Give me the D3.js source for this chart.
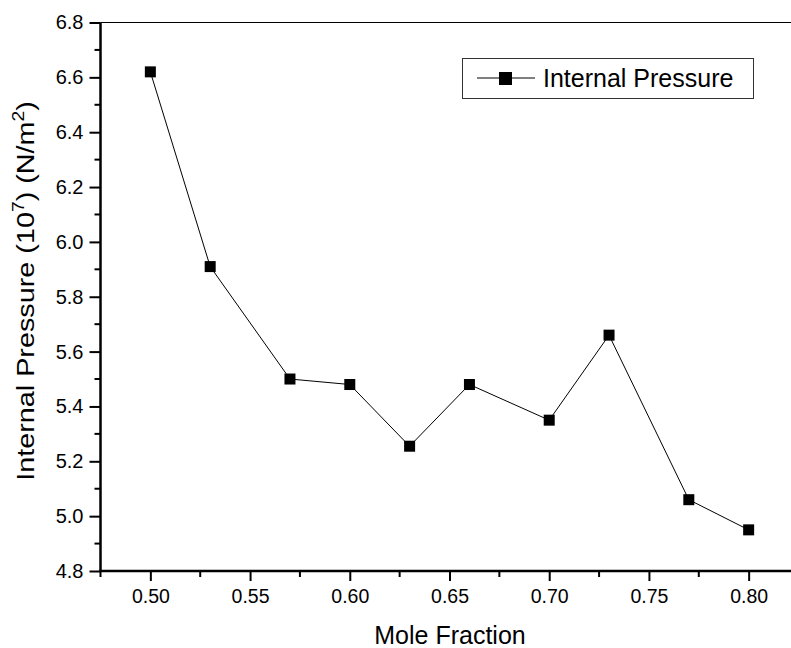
<!DOCTYPE html>
<meta charset="utf-8">
<style>
 body { margin: 0; background: white; }
 svg { display: block; font-family: 'Liberation Sans', Arial, sans-serif; }
</style>
<svg width="791" height="648"></svg>
<script src="https://d3js.org/d3.v7.min.js"></script>
<script>
 var moleFraction = [0.50, 0.53, 0.57, 0.60, 0.63, 0.66, 0.70, 0.73, 0.77, 0.80];
 var internalPressure = [6.62, 5.91, 5.50, 5.48, 5.255, 5.48, 5.35, 5.66, 5.06, 4.95];
 var yTicks = [4.8, 5.0, 5.2, 5.4, 5.6, 5.8, 6.0, 6.2, 6.4, 6.6, 6.8];
 var xTicks = [0.50, 0.55, 0.60, 0.65, 0.70, 0.75, 0.80];

 var svg = d3.select('svg');
 var pLeft = 100.5, pRight = 798.5, pTop = 22.5, pBottom = 571;

 var x = d3.scaleLinear().domain([0.475, 0.825]).range([pLeft, pRight]);
 var y = d3.scaleLinear().domain([4.8, 6.8]).range([pBottom, pTop]);

 // frame (top / right)
 svg.append('path')
     .attr('d', 'M' + pLeft + ',' + pTop + 'H' + pRight + 'V' + pBottom)
     .attr('fill', 'none').attr('stroke', '#000').attr('stroke-width', 1);

 // minor ticks
 var yMinor = [4.9, 5.1, 5.3, 5.5, 5.7, 5.9, 6.1, 6.3, 6.5, 6.7];
 svg.append('g').selectAll('line').data(yMinor).enter().append('line')
     .attr('x1', pLeft - 6).attr('x2', pLeft)
     .attr('y1', d => y(d)).attr('y2', d => y(d))
     .attr('stroke', '#000').attr('stroke-width', 2);
 var xMinor = [0.475, 0.525, 0.575, 0.625, 0.675, 0.725, 0.775];
 svg.append('g').selectAll('line').data(xMinor).enter().append('line')
     .attr('x1', d => x(d)).attr('x2', d => x(d))
     .attr('y1', pBottom).attr('y2', pBottom + 6)
     .attr('stroke', '#000').attr('stroke-width', 2);

 // axes
 var yAxis = svg.append('g').attr('transform', 'translate(' + pLeft + ',0)')
     .call(d3.axisLeft(y).tickValues(yTicks).tickFormat(d3.format('.1f')).tickSize(11).tickPadding(6));
 var xAxis = svg.append('g').attr('transform', 'translate(0,' + pBottom + ')')
     .call(d3.axisBottom(x).tickValues(xTicks).tickFormat(d3.format('.2f')).tickSize(10).tickPadding(8));
 yAxis.attr('font-size', 20);
 xAxis.attr('font-size', 19.5);
 [yAxis, xAxis].forEach(function(a) {
     a.attr('font-family', "'Liberation Sans', Arial, sans-serif");
     a.select('.domain').attr('stroke-width', 2.5);
     a.selectAll('.tick line').attr('stroke-width', 2);
     a.selectAll('text').attr('fill', '#000');
 });
 yAxis.select('.domain').attr('d', 'M0,' + (pBottom + 1) + 'V' + pTop);
 xAxis.select('.domain').attr('d', 'M' + (pLeft - 1) + ',0H' + pRight);

 // data line and markers
 var pts = moleFraction.map((m, i) => [m, internalPressure[i]]);
 svg.append('path').datum(pts)
     .attr('d', d3.line().x(d => x(d[0])).y(d => y(d[1])))
     .attr('fill', 'none').attr('stroke', '#000').attr('stroke-width', 1);
 svg.append('g').selectAll('rect').data(pts).enter().append('rect')
     .attr('x', d => x(d[0]) - 5.5).attr('y', d => y(d[1]) - 5.5)
     .attr('width', 11).attr('height', 11).attr('fill', '#000');

 // axis titles
 svg.append('text').attr('x', 450).attr('y', 644).attr('text-anchor', 'middle')
     .attr('font-size', 25).text('Mole Fraction');
 var yl = svg.append('text').attr('transform', 'translate(34,291) rotate(-90) scale(1.2,1)')
     .attr('text-anchor', 'middle').attr('font-size', 24);
 yl.append('tspan').text('Internal Pressure (10');
 yl.append('tspan').attr('font-size', 16).attr('dy', -10).text('7');
 yl.append('tspan').attr('dy', 10).text(') (N/m');
 yl.append('tspan').attr('font-size', 16).attr('dy', -10).text('2');
 yl.append('tspan').attr('dy', 10).text(')');

 // legend
 var lg = svg.append('g');
 lg.append('rect').attr('x', 462.5).attr('y', 58.5).attr('width', 291).attr('height', 40)
     .attr('fill', 'white').attr('stroke', '#333').attr('stroke-width', 1);
 lg.append('line').attr('x1', 477).attr('x2', 535).attr('y1', 78).attr('y2', 78)
     .attr('stroke', '#000').attr('stroke-width', 1);
 lg.append('rect').attr('x', 499).attr('y', 72).attr('width', 13).attr('height', 13).attr('fill', '#000');
 lg.append('text').attr('x', 543).attr('y', 87).attr('font-size', 25).text('Internal Pressure');
</script>
